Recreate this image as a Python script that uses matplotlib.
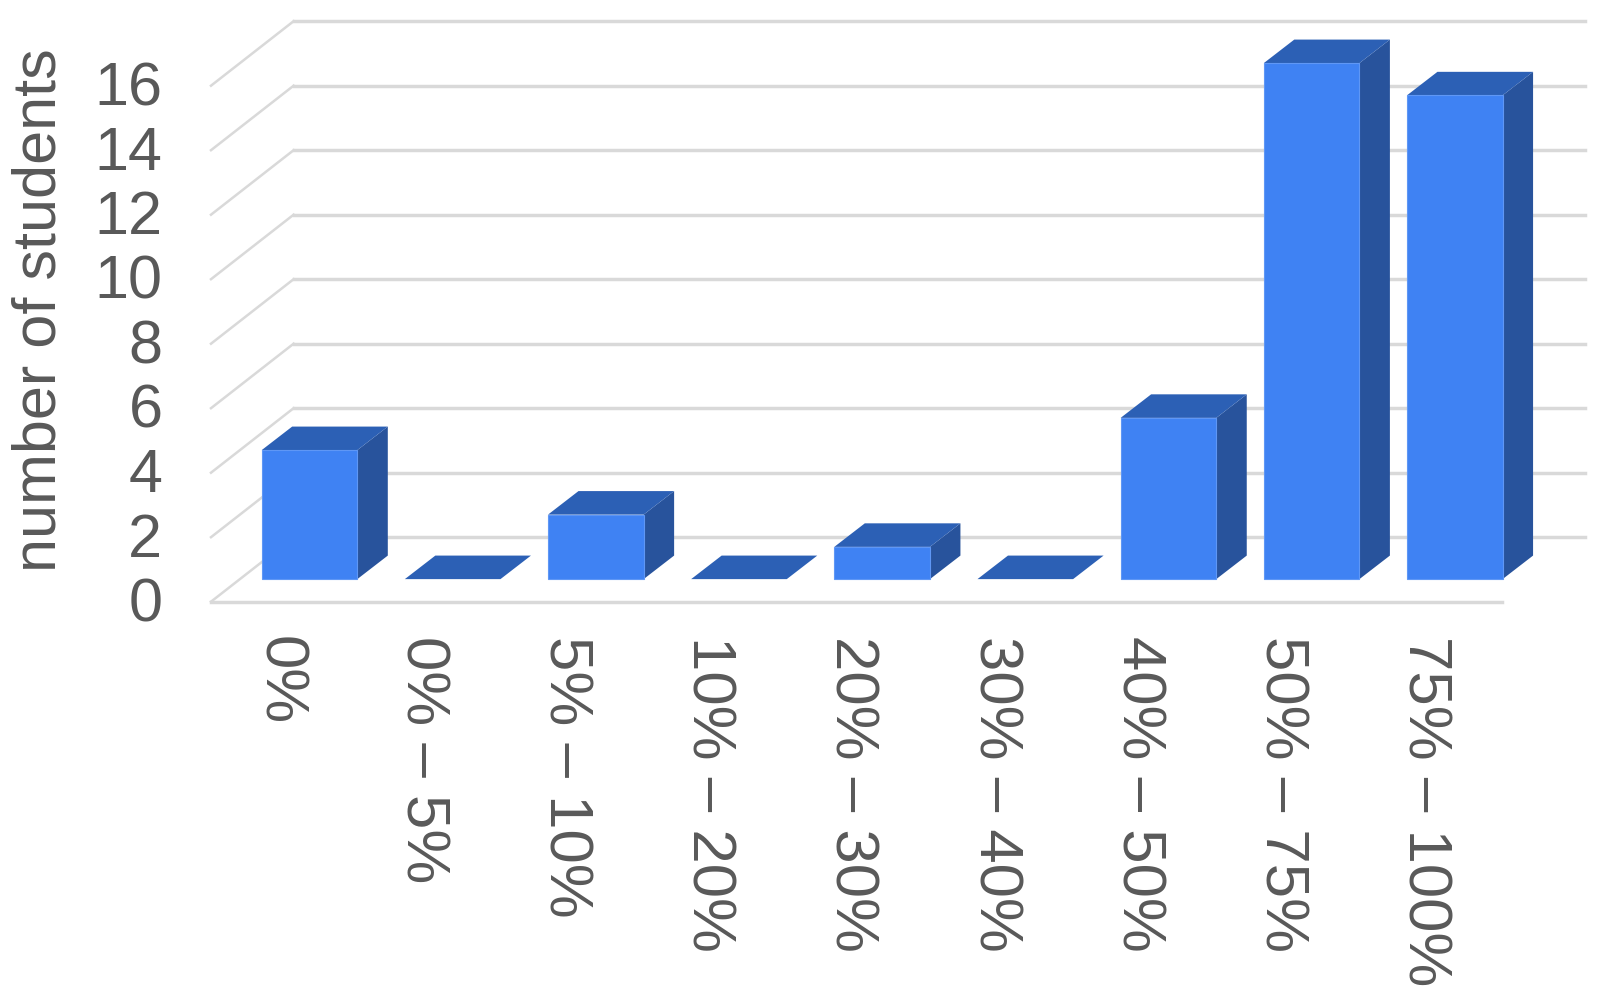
import matplotlib.pyplot as plt
from matplotlib.patches import Polygon
from matplotlib.transforms import ScaledTranslation
import numpy as np

plt.rcParams['font.family'] = ['Liberation Sans', 'DejaVu Sans']

# data
categories = ['0%', '0% – 5%', '5% – 10%', '10% – 20%', '20% – 30%',
              '30% – 40%', '40% – 50%', '50% – 75%', '75% – 100%']
students = [4, 0, 2, 0, 1, 0, 5, 16, 15]
y_ticks = [0, 2, 4, 6, 8, 10, 12, 14, 16]

# colours
front_col = '#3F82F3'
top_col = '#2C60B5'
side_col = '#28539C'
grid_col = '#D9D9D9'
text_col = '#595959'

# 3d look, in data units
x_left, x_right = -0.688, 8.330
wall_dx, wall_dy = 0.577, 2.0
bar_w = 0.668
bar_lift = 0.70
bar_dx, bar_dy = 0.213, 0.73

fig = plt.figure(figsize=(15.99, 9.99), dpi=100)
ax = fig.add_axes([211 / 1599, 1 - 601.7 / 999, 1291 / 1599, 580.5 / 999])
ax.set_xlim(x_left, x_right)
ax.set_ylim(0, 18)
for s in ax.spines.values():
    s.set_visible(False)

# walls
for v in y_ticks:
    ax.plot([x_left, x_left + wall_dx], [v, v + wall_dy], color=grid_col, lw=1.8,
            clip_on=False, zorder=1)
    ax.plot([x_left + wall_dx, x_right + wall_dx], [v + wall_dy, v + wall_dy],
            color=grid_col, lw=2.5, clip_on=False, zorder=1)
ax.plot([x_left, x_right], [0, 0], color=grid_col, lw=2.5, clip_on=False, zorder=1)

# bars
xs = np.arange(len(students))
for x, val in zip(xs, students):
    l = x - bar_w / 2
    r = x + bar_w / 2
    b = bar_lift
    t = bar_lift + val
    if val > 0:
        ax.add_patch(Polygon([(r, b), (r + bar_dx, b + bar_dy), (r + bar_dx, t + bar_dy), (r, t)],
                             fc=side_col, ec='none', zorder=3, clip_on=False))
        ax.add_patch(Polygon([(l, b), (r, b), (r, t), (l, t)], fc=front_col,
                             ec='#5F97F5', lw=0.8, zorder=4, clip_on=False))
    ax.add_patch(Polygon([(l, t), (r, t), (r + bar_dx, t + bar_dy), (l + bar_dx, t + bar_dy)],
                         fc=top_col, ec='none', zorder=3, clip_on=False))

# labels sit at the left part of each bar
ax.set_xticks(xs - 0.215)
ax.set_xticklabels(categories, rotation=-90, ha='center', va='top',
                   fontsize=44.5, color=text_col)
ax.set_yticks(y_ticks)
ax.set_yticklabels([str(v) for v in y_ticks], fontsize=44, color=text_col)
ax.tick_params(axis='x', length=0, pad=25)
ax.tick_params(axis='y', length=0, pad=35)

# y tick labels sit a little above their lines
up = ScaledTranslation(0, 2.5 / 100, fig.dpi_scale_trans)
for lab in ax.get_yticklabels():
    lab.set_transform(lab.get_transform() + up)

ax.set_ylabel('number of students', fontsize=44, color=text_col, va='center')
ax.yaxis.set_label_coords((39 * 1.02 - 211) / 1291, (601.7 - 310) / 580.5)

fig.savefig('out.png', dpi=100)
